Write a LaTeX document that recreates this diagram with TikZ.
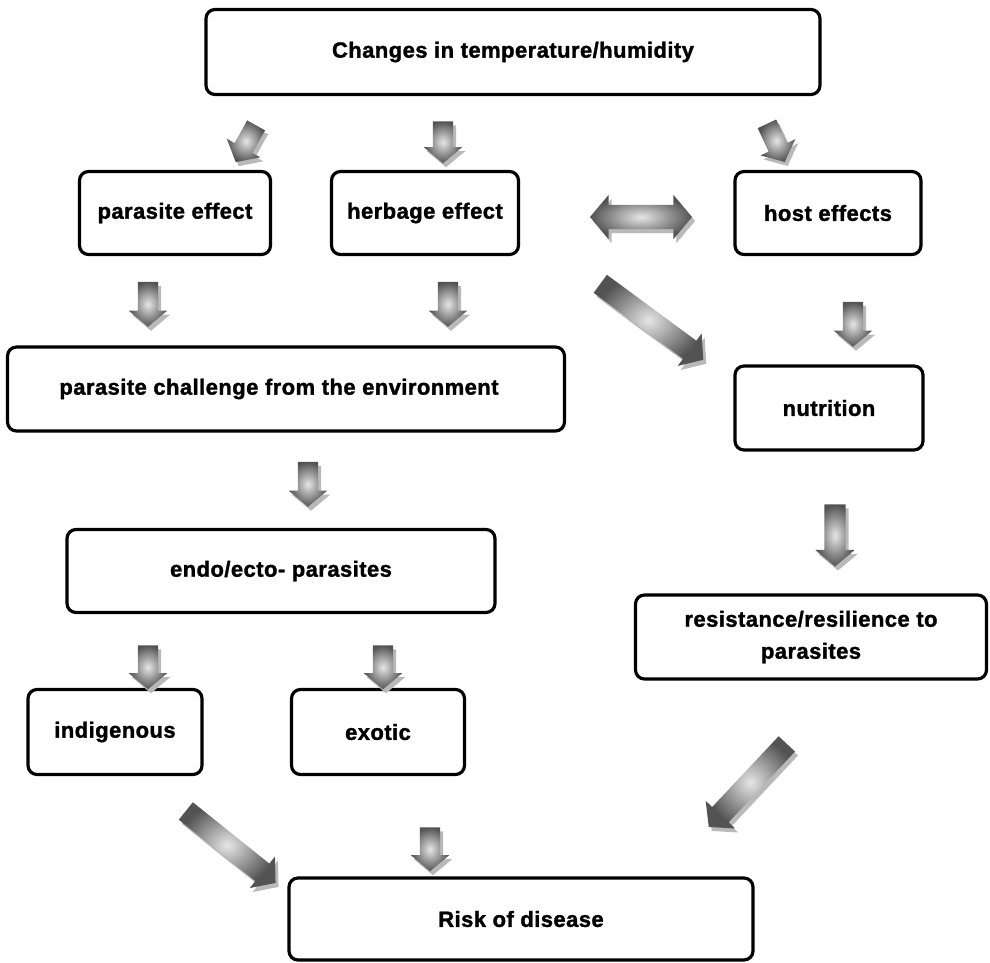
\documentclass[tikz,border=0pt]{standalone}
\usepackage{fontspec}
\setmainfont{Liberation Sans}[LetterSpace=2, BoldFeatures={FakeBold=1.5}]
\usepackage{tikz}
\usetikzlibrary{shapes.arrows,calc}

\tikzset{
  box/.style={draw, line width=3.2pt, rounded corners=9pt, align=center,
    inner sep=0pt, font=\fontsize{22}{32}\selectfont\bfseries},
  arrowbase/.style={single arrow, inner xsep=0pt, minimum width=0pt,
    single arrow head extend=9pt, single arrow tip angle=100},
  fatarrow/.style={arrowbase, inner color=gray!20, outer color=gray!65!black},
  fatshadow/.style={arrowbase, fill=gray!55},
}

% shaded block arrow with its gray shadow: name, centre, angle, length, shaft width
\newcommand{\blockarrow}[5]{%
  \node[fatshadow, rotate=#3, minimum height=#4, inner ysep=#5/2] at ($(#2)+(3,4)$) {};
  \node[fatarrow, rotate=#3, minimum height=#4, inner ysep=#5/2] (#1) at (#2) {};
}

\begin{document}
\begin{tikzpicture}[x=1pt,y=-1pt]
  \useasboundingbox (0,0) rectangle (990,963);

  % boxes
  \node[box, minimum width=614, minimum height=85] (climate) at (513,52) {Changes in temperature/humidity};
  \node[box, minimum width=191, minimum height=83] (parasite) at (175,213) {parasite effect};
  \node[box, minimum width=187, minimum height=83] (herbage) at (425,213) {herbage effect};
  \node[box, minimum width=186, minimum height=83] (host) at (828,213) {host effects};
  \node[box, minimum width=557, minimum height=84] (challenge) at (286,389) {parasite challenge from the environment\hspace*{14pt}};
  \node[box, minimum width=188, minimum height=84] (nutrition) at (829,408) {nutrition};
  \node[box, minimum width=428, minimum height=83] (endoecto) at (281,571) {endo/ecto- parasites};
  \node[box, minimum width=351, minimum height=84] (resist) at (811,637) {resistance/resilience to\\parasites};
  \node[box, minimum width=174, minimum height=85] (indig) at (115,732) {indigenous};
  \node[box, minimum width=173, minimum height=85] (exotic) at (378,732) {exotic};
  \node[box, minimum width=464, minimum height=82] (risk) at (521,919) {Risk of disease};

  % block arrows
  \blockarrow{a1}{248,140}{-119}{42}{20}
  \blockarrow{a2}{443,138}{-90}{42}{20}
  \blockarrow{a3}{774,139}{-65}{42}{20}
  \blockarrow{a5}{148,300}{-90}{45}{20}
  \blockarrow{a6}{448,300}{-90}{45}{20}
  \blockarrow{a7}{648,319}{-36.4}{128}{22}
  \blockarrow{a8}{853,320}{-90}{45}{20}
  \blockarrow{a9}{308,480}{-90}{45}{20}
  \blockarrow{a10}{835,531}{-90}{62}{21}
  \blockarrow{a11}{148,663}{-90}{44}{20}
  \blockarrow{a12}{383,663}{-90}{44}{20}
  \blockarrow{a13}{227,844}{-38.7}{115}{22}
  \blockarrow{a14}{430,845}{-90}{44}{20}
  \blockarrow{a15}{751,782}{-133.2}{114}{22}

  % two-way arrow between herbage and host
  \node[double arrow, inner xsep=0pt, inner ysep=12pt, minimum width=0pt, double arrow head extend=10pt,
    double arrow tip angle=100, minimum height=102, fill=gray!55] at (644,221) {};
  \node[double arrow, inner xsep=0pt, inner ysep=12pt, minimum width=0pt, double arrow head extend=10pt,
    double arrow tip angle=100, minimum height=102, inner color=gray!20, outer color=gray!65!black] (a4) at (641,217) {};
\end{tikzpicture}
\end{document}
